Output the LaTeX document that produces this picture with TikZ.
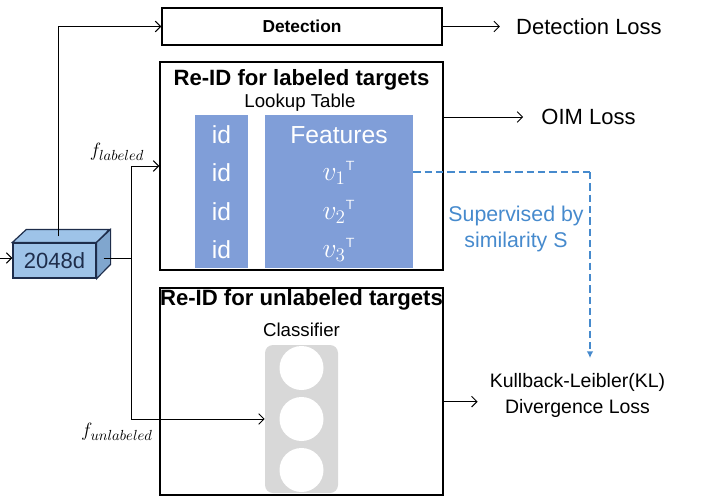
\documentclass[tikz,border=0pt]{standalone}
\usepackage{fontspec}
\setmainfont{Liberation Sans}
\usetikzlibrary{arrows.meta,calc}

\definecolor{tabblue}{RGB}{128,158,216}
\definecolor{cubefill}{RGB}{158,195,232}
\definecolor{cubeside}{RGB}{128,166,206}
\definecolor{cubeline}{RGB}{30,45,75}
\definecolor{simblue}{RGB}{70,138,205}
\definecolor{clsgray}{RGB}{216,216,216}

\begin{document}
\begin{tikzpicture}[x=0.75pt,y=0.75pt,yscale=-1,xscale=1,
  >={Straight Barb[length=4pt,width=8pt]},
  conn/.style={line width=0.75pt},
  box/.style={draw, line width=1pt, inner sep=0pt},
  col/.style={fill=tabblue, inner sep=0pt, minimum height=114.75pt},
  cell/.style={text=white, inner sep=0pt, font=\fontsize{18.5}{20}\selectfont},
  vec/.style={text=white, inner sep=0pt, font=\fontsize{20}{21}\selectfont},
  title/.style={inner sep=0pt, font=\fontsize{16.6}{19}\selectfont\bfseries},
  sub/.style={inner sep=0pt, font=\fontsize{14}{16}\selectfont},
  loss/.style={inner ysep=0pt, font=\fontsize{16.5}{19.5}\selectfont},
  feat/.style={inner sep=0pt, font=\fontsize{15.5}{17}\selectfont},
  simline/.style={draw=simblue, line width=1.4pt, dash pattern={on 5.5pt off 3pt}},
  neuron/.style={circle, fill=white, minimum size=33pt, inner sep=0pt}]
\useasboundingbox (0,0) rectangle (704,497);

% Detection branch
\node[box, minimum width=210pt, minimum height=27.75pt, font=\fontsize{13}{15}\selectfont\bfseries] (det) at (302,26.5) {Detection};
\node[loss, inner xsep=12pt] (dloss) at (589,27) {Detection Loss};

% Re-ID for labeled targets
\node[box, minimum width=212.25pt, minimum height=156pt] (lab) at (301.5,166) {};
\node[title] (labt) at (301.5,80) {Re-ID for labeled targets};
\node[sub] (lut) at (300,103) {Lookup Table};
\node[col, minimum width=39.75pt] (ids) at (221.5,191.5) {};
\node[col, minimum width=111pt] (feats) at (339,191.5) {};
\node[cell] (id0) at (221.5,135) {id};
\node[cell] (id1) at (221.5,173) {id};
\node[cell] (id2) at (221.5,212) {id};
\node[cell] (id3) at (221.5,250) {id};
\node[cell] (fh) at (339,135) {Features};
\node[vec] (v1) at (339,173) {$v_1{}^{\scriptscriptstyle\mathsf{T}}$};
\node[vec] (v2) at (339,212) {$v_2{}^{\scriptscriptstyle\mathsf{T}}$};
\node[vec] (v3) at (339,250) {$v_3{}^{\scriptscriptstyle\mathsf{T}}$};
\node[loss, inner xsep=13.5pt] (oim) at (588.5,117) {OIM Loss};

% Re-ID for unlabeled targets
\node[box, minimum width=212.25pt, minimum height=155.25pt] (unl) at (301.5,391.5) {};
\node[title] (unlt) at (301.5,300) {Re-ID for unlabeled targets};
\node[sub] (clst) at (301.5,330) {Classifier};
\node[fill=clsgray, rounded corners=6pt, minimum width=54.75pt, minimum height=111pt, inner sep=0pt] (cls) at (301.5,419) {};
\node[neuron] (n1) at (301.5,368) {};
\node[neuron] (n2) at (301.5,419) {};
\node[neuron] (n3) at (301.5,470) {};
\node[loss, align=center, inner xsep=9pt, font=\fontsize{14.6}{19.5}\selectfont] (kl) at (577.5,395) {Kullback-Leibler(KL)\\Divergence Loss};

% feature cube
\node[draw=cubeline, fill=cubefill, line width=0.9pt, minimum width=62.25pt, minimum height=26.25pt, inner sep=0pt, text=cubeline, font=\fontsize{16.5}{18}\selectfont] (cube) at (54.5,260.5) {2048d};
\draw [draw=cubeline, fill=cubefill, line width=0.9pt] (cube.north west) -- ++(14,-13) -- ++(83,0) -- (cube.north east) -- cycle ;
\draw [draw=cubeline, fill=cubeside, line width=0.9pt] (cube.north east) -- ++(14,-13) -- ++(0,35) -- (cube.south east) -- cycle ;

% connectors
\coordinate (inp) at (0,258);
\coordinate (jn) at (131,258);
\draw [conn,->] (inp) -- (inp -| cube.west) ;
\draw [conn,->] ($(cube.north)+(4,-6)$) |- (det.west) ;
\draw [conn,->] (det.east) -- (det.east -| dloss.west) ;
\draw [conn,->] (lab.east |- oim.west) -- (oim.west) ;
\draw [conn,->] ([yshift=5pt]kl.west -| unl.east) -- ([yshift=5pt]kl.west) ;
\draw [conn] ($(cube.east)+(7,-2.5)$) -- (jn) ;
\draw [conn,->] (jn) |- (lab.west) ;
\draw [conn,->] (jn) |- (cls.west) ;
\node[feat] (fl) at (117,152) {$f_{labeled}$};
\node[feat] (fu) at (117,432) {$f_{unlabeled}$};

% similarity supervision
\coordinate (bend) at (590,172);
\draw [simline] (feats.east |- bend) -- (bend) ;
\draw [simline, -{Latex[length=5pt,width=5pt]}, shorten >=11pt] (bend) -- (bend |- kl.north) ;
\node[align=center, text=simblue, inner sep=0pt, font=\fontsize{16}{19.5}\selectfont] (sup) at (516,229) {Supervised by\\similarity S};

\end{tikzpicture}
\end{document}
